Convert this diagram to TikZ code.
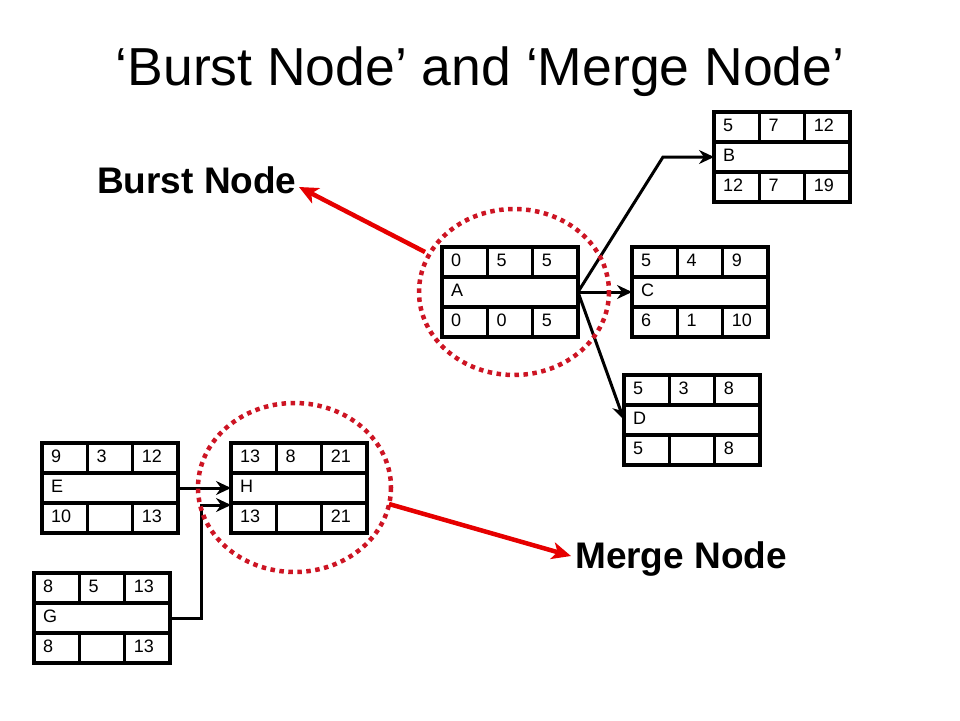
\documentclass[tikz,border=0pt]{standalone}
\usepackage{fontspec}
\setmainfont{Liberation Sans}
\usetikzlibrary{arrows.meta,calc}
\definecolor{arrowred}{RGB}{230,0,0}
\definecolor{dotred}{RGB}{205,20,35}
\tikzset{
  cellbox/.style={draw=black, line width=3.5pt, minimum width=136pt, minimum height=90pt, inner sep=0pt, outer sep=0pt, anchor=north west},
  boxline/.style={draw=black, line width=3.5pt},
  celltext/.style={anchor=base west, inner sep=0pt, font=\fontsize{18}{21}\selectfont},
  conn/.style={draw=black, line width=3pt, -{Stealth[length=15pt,width=14pt,inset=5pt]}},
  redarrow/.style={draw=arrowred, line width=4.5pt, -{Stealth[length=19pt,width=17pt,inset=5pt]}},
  dotring/.style={draw=dotred, line width=4.5pt, dash pattern=on 4.5pt off 4.5pt},
  biglabel/.style={inner sep=0pt, font=\fontsize{37}{42}\selectfont\bfseries},
}
\newcommand\pbox[9]{%
  \node[cellbox] (#1) at (#2) {};
  \draw[boxline] ([yshift=-30pt]#1.north west) -- ([yshift=-30pt]#1.north east);
  \draw[boxline] ([yshift=30pt]#1.south west) -- ([yshift=30pt]#1.south east);
  \draw[boxline] ([xshift=45.33pt]#1.north west) -- ([xshift=45.33pt,yshift=-30pt]#1.north west);
  \draw[boxline] ([xshift=90.67pt]#1.north west) -- ([xshift=90.67pt,yshift=-30pt]#1.north west);
  \draw[boxline] ([xshift=45.33pt]#1.south west) -- ([xshift=45.33pt,yshift=30pt]#1.south west);
  \draw[boxline] ([xshift=90.67pt]#1.south west) -- ([xshift=90.67pt,yshift=30pt]#1.south west);
  \node[celltext] (#1-t1) at ([xshift=9pt,yshift=-19pt]#1.north west) {#3};
  \node[celltext] (#1-t2) at ([xshift=54.33pt,yshift=-19pt]#1.north west) {#4};
  \node[celltext] (#1-t3) at ([xshift=99.67pt,yshift=-19pt]#1.north west) {#5};
  \node[celltext] (#1-m) at ([xshift=9pt,yshift=-49pt]#1.north west) {#6};
  \node[celltext] (#1-b1) at ([xshift=9pt,yshift=-79pt]#1.north west) {#7};
  \node[celltext] (#1-b2) at ([xshift=54.33pt,yshift=-79pt]#1.north west) {#8};
  \node[celltext] (#1-b3) at ([xshift=99.67pt,yshift=-79pt]#1.north west) {#9};
}
\begin{document}
\begin{tikzpicture}[x=1pt,y=-1pt]
\useasboundingbox[fill=white] (0,0) rectangle (960,720);

\node[anchor=base, inner sep=0pt, font=\fontsize{53.5}{60}\selectfont] (title) at (480,85) {‘Burst Node’ and ‘Merge Node’};

\pbox{A}{442,247}{0}{5}{5}{A}{0}{0}{5}
\pbox{B}{714,112}{5}{7}{12}{B}{12}{7}{19}
\pbox{C}{632,247}{5}{4}{9}{C}{6}{1}{10}
\pbox{D}{624,375}{5}{3}{8}{D}{5}{}{8}
\pbox{E}{42,443}{9}{3}{12}{E}{10}{}{13}
\pbox{H}{231,443}{13}{8}{21}{H}{13}{}{21}
\pbox{G}{34,573}{8}{5}{13}{G}{8}{}{13}

% connectors
\coordinate (ab) at (663,157);
\draw[conn] (A.east) -- (ab) -- (B.west);
\draw[conn] (A.east) -- (C.west);
\draw[conn] (A.east) -- (D.west);
\draw[conn] (E.east) -- (H.west);
\coordinate (gh1) at (201,618);
\coordinate (gh2) at (201,505);
\draw[conn] (G.east) -- (gh1) -- (gh2) -- ([yshift=-17pt]H.west);

% dotted rings
\draw[dotring] (514,292) ellipse [x radius=95, y radius=83];
\draw[dotring] (294.5,487.5) ellipse [x radius=96.5, y radius=84.5];

% labels and red arrows
\node[biglabel, anchor=base west] (burst) at (97,193) {Burst Node};
\node[biglabel, anchor=base west] (merge) at (575,568) {Merge Node};
\coordinate (bs) at (425,252);
\coordinate (bt) at (299,187);
\draw[redarrow] (bs) -- (bt);
\coordinate (ms) at (389,504);
\coordinate (mt) at (571,556);
\draw[redarrow] (ms) -- (mt);
\end{tikzpicture}
\end{document}
